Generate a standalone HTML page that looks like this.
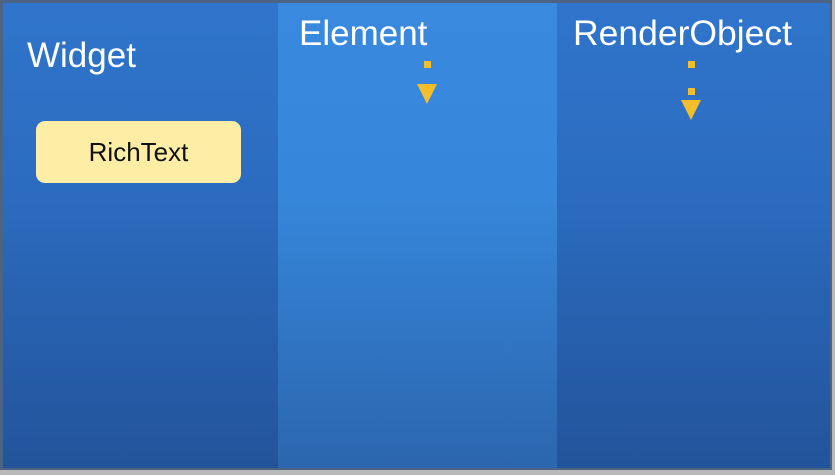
<!DOCTYPE html>
<html><head><style>
html,body{margin:0;padding:0;width:835px;height:475px;overflow:hidden;background:#b9b9b9;}
.frame{position:absolute;left:0;top:0;width:832px;height:470px;background:#4d6383;}
.col{position:absolute;top:3px;height:465px;}
.c1{left:3px;width:275px;background:linear-gradient(#2f75cb,#2c6cc0 40%,#22549a);}
.c2{left:278px;width:279px;background:linear-gradient(#3989de,#3687dc 40%,#2b66ae);}
.c3{left:557px;width:273px;background:linear-gradient(#2f75cb,#2c6cc0 40%,#22549a);}
.t{position:absolute;color:#fff;font-family:"Liberation Sans",sans-serif;font-size:35px;line-height:1;}
.box{position:absolute;left:36px;top:121px;width:205px;height:62px;background:#fdeda5;border-radius:9px;font-family:"Liberation Sans",sans-serif;font-size:26px;color:#111;text-align:center;line-height:62px;}
.sq{position:absolute;width:7px;height:7px;background:#f3bd2b;}
.tri{position:absolute;width:0;height:0;border-left:10px solid transparent;border-right:10px solid transparent;border-top:20px solid #f3bd2b;}
</style></head><body>
<div class="frame"></div>
<div class="col c1"></div><div class="col c2"></div><div class="col c3"></div>
<div class="t" style="left:27px;top:38px;">Widget</div>
<div class="t" style="left:299px;top:16px;">Element</div>
<div class="t" style="left:573px;top:16px;font-size:35.5px;">RenderObject</div>
<div class="box">RichText</div>
<div class="sq" style="left:424px;top:61px;"></div>
<div class="tri" style="left:417px;top:84px;"></div>
<div class="sq" style="left:688px;top:61px;"></div>
<div class="sq" style="left:688px;top:88px;"></div>
<div class="tri" style="left:681px;top:100px;"></div>
</body></html>
